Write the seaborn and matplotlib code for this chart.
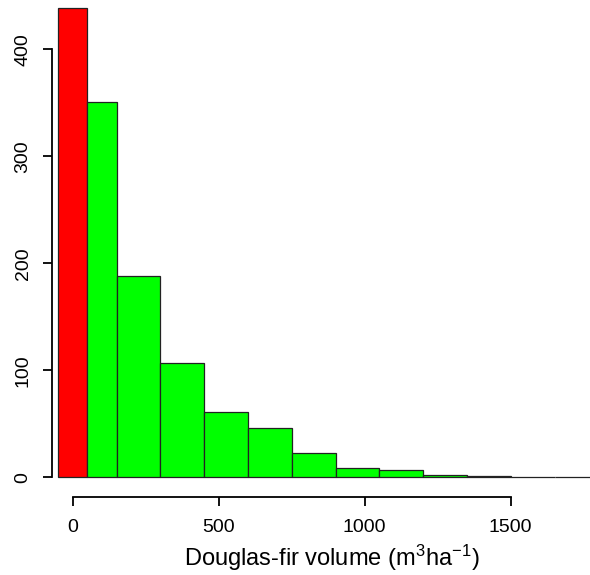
import matplotlib
matplotlib.use("Agg")
import matplotlib.pyplot as plt
import seaborn as sns

# Data (histogram counts)
red_edges = [-50, 50]
red_counts = [439]
green_edges = [50, 150, 300, 450, 600, 750, 900, 1050, 1200, 1350, 1500, 1650, 1800]
green_counts = [351, 188, 107, 61, 46, 23, 9, 7, 2, 1, 0, 0]
x_ticks = [0, 500, 1000, 1500]
y_ticks = [0, 100, 200, 300, 400]
x_label = "Douglas-fir volume (m$^3$ha$^{-1}$)"

sns.set_theme(style="white")
plt.rcParams["font.family"] = ["Liberation Sans", "DejaVu Sans"]
plt.rcParams["mathtext.fontset"] = "custom"
plt.rcParams["mathtext.rm"] = "Liberation Sans"
plt.rcParams["mathtext.it"] = "Liberation Sans:italic"
plt.rcParams["mathtext.bf"] = "Liberation Sans:bold"

fig = plt.figure(figsize=(5.9, 5.75), dpi=100)
ax = fig.add_axes([51.7 / 590, (575 - 496.7) / 575, 561.2 / 590, 496.6 / 575])

red_centers = [(a + b) / 2 for a, b in zip(red_edges[:-1], red_edges[1:])]
green_centers = [(a + b) / 2 for a, b in zip(green_edges[:-1], green_edges[1:])]

sns.histplot(x=red_centers, weights=red_counts, bins=red_edges, color="#ff0000",
             alpha=1, edgecolor="#222222", linewidth=0.9, ax=ax)
sns.histplot(x=green_centers, weights=green_counts, bins=green_edges, color="#00ff00",
             alpha=1, edgecolor="#222222", linewidth=0.9, ax=ax)

ax.set_xlim(-72, 1850)
ax.set_ylim(-18.1, 446)

for s in ["top", "right"]:
    ax.spines[s].set_visible(False)
for s in ["left", "bottom"]:
    ax.spines[s].set_color("black")
    ax.spines[s].set_linewidth(1.3)
ax.spines["left"].set_bounds(0, 400)
ax.spines["bottom"].set_bounds(0, 1500)

ax.set_xticks(x_ticks)
ax.set_yticks(y_ticks)
ax.set_yticklabels([str(v) for v in y_ticks], rotation=90, va="center")
ax.tick_params(axis="both", which="major", length=6.5, width=1.3, color="black",
               labelsize=14, labelcolor="black", direction="out",
               left=True, bottom=True)
ax.tick_params(axis="y", pad=8)
ax.tick_params(axis="x", pad=9.5)
ax.set_xlabel(x_label, fontsize=17, color="black", labelpad=5)
ax.set_ylabel("")
ax.grid(False)

fig.savefig("out.png", dpi=100)
